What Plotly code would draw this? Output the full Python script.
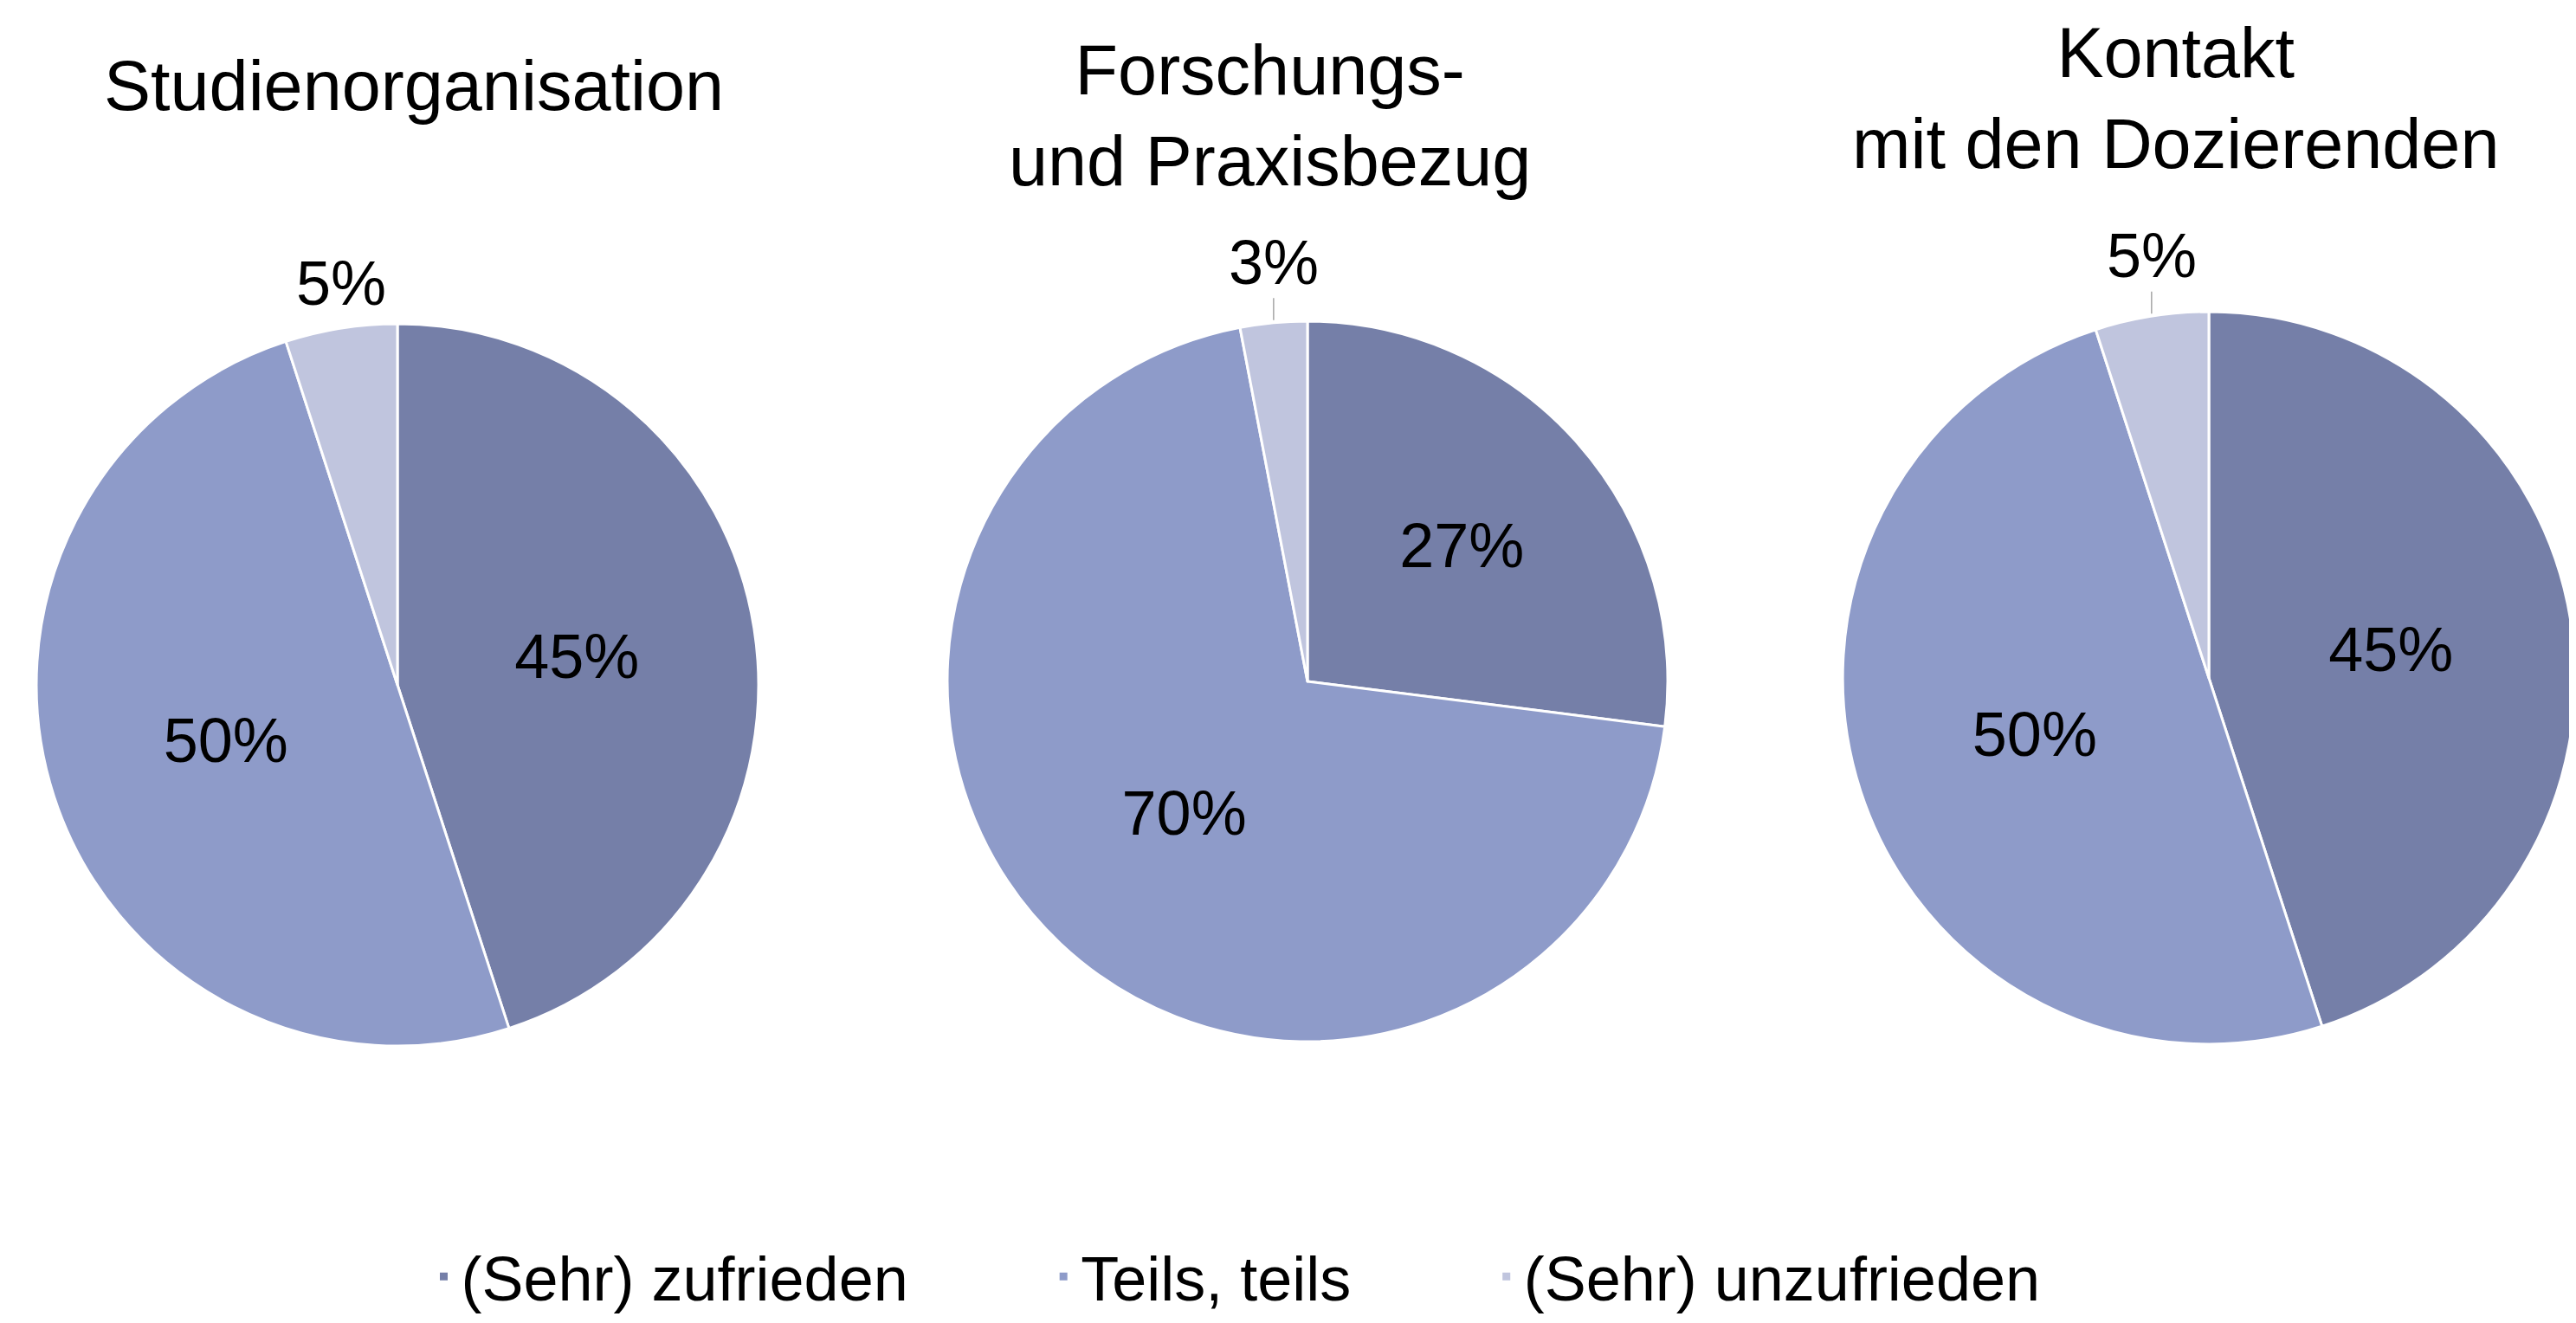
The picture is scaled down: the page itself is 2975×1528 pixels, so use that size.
import math
import plotly.graph_objects as go

categories = ["(Sehr) zufrieden", "Teils, teils", "(Sehr) unzufrieden"]
titles = ["Studienorganisation", "Forschungs-<br>und Praxisbezug", "Kontakt<br>mit den Dozierenden"]
values_studienorganisation = [45, 50, 5]
values_forschung = [27, 70, 3]
values_kontakt = [45, 50, 5]
colors = ["#757fa8", "#8e9bc9", "#c0c5de"]

FONT = "Liberation Sans Narrow, Arial Narrow, Liberation Sans, Arial, sans-serif"
FS_TITLE = 81
FS_LABEL = 72
FS_LEGEND = 72
PAGE_W, PAGE_H = 2975, 1528
OFF = 8  # default body margin of the html page
W, H = PAGE_W - OFF, PAGE_H - OFF


def px2paper(x, y):
    """page pixel -> paper fraction of the figure"""
    return (x - OFF) / W, 1 - (y - OFF) / H


# pie centres / radii in page pixels (layout only)
pies = [(459, 791, 417), (1510, 787, 416), (2551, 783, 423)]
domains = []
for cx, cy, r in pies:
    x0, y0 = px2paper(cx - r, cy + r)
    x1, y1 = px2paper(cx + r, cy - r)
    domains.append(dict(x=[max(x0, 0.0), min(x1, 1.0)], y=[max(y0, 0.0), min(y1, 1.0)]))
series = [values_studienorganisation, values_forschung, values_kontakt]

pad = "\u00a0" * 7 + "\u2009"
legend_names = [categories[0] + pad, categories[1] + pad, categories[2]]

fig = go.Figure()
for i, vals in enumerate(series):
    fig.add_trace(go.Pie(
        labels=legend_names,
        values=vals,
        domain=domains[i],
        sort=False,
        direction="clockwise",
        rotation=0,
        marker=dict(colors=colors, line=dict(color="white", width=3)),
        texttemplate=["%{value:.0f}%", "%{value:.0f}%", ""],
        textposition=["inside", "inside", "none"],
        insidetextorientation="horizontal",
        textfont=dict(family=FONT, size=FS_LABEL, color="black"),
        showlegend=(i == 0),
        hoverinfo="label+value",
    ))

# labels of the small slices, placed above the slice at its mid-angle
leader = [False, True, True]
for i, vals in enumerate(series):
    cx, cy, r = pies[i]
    total = sum(vals)
    before = sum(vals[:2])
    theta = 2 * math.pi * (before + vals[2] / 2) / total
    ax_, ay_ = px2paper(cx + r * math.sin(theta), cy - r * math.cos(theta))
    if leader[i]:
        fig.add_annotation(
            x=ax_, y=ay_, xref="paper", yref="paper",
            text=f"{vals[2]:.0f}%", showarrow=True, arrowhead=0, arrowwidth=1.5,
            arrowcolor="#a6a6a6", ax=0, ay=-70, standoff=3,
            font=dict(family=FONT, size=FS_LABEL, color="black"),
        )
    else:
        fig.add_annotation(
            x=ax_, y=ay_, xref="paper", yref="paper",
            text=f"{vals[2]:.0f}%", showarrow=False, yshift=52,
            xanchor="center", yanchor="middle",
            font=dict(family=FONT, size=FS_LABEL, color="black"),
        )

# Titles as annotations (page pixel positions of their top centre)
title_pos = [(478, 52), (1466, 34), (2512, 14)]
for (tx, ty), t in zip(title_pos, titles):
    px_, py_ = px2paper(tx, ty)
    fig.add_annotation(
        x=px_, y=py_, xref="paper", yref="paper", text=t, showarrow=False,
        xanchor="center", yanchor="top",
        font=dict(family=FONT, size=FS_TITLE, color="black"),
    )

lx, _ = px2paper(1427, 0)
fig.update_layout(
    width=W, height=H,
    margin=dict(l=0, r=0, t=0, b=0),
    paper_bgcolor="white", plot_bgcolor="white",
    font=dict(family=FONT, size=FS_LEGEND, color="black"),
    legend=dict(
        orientation="h", x=lx, xanchor="center", y=0, yanchor="bottom",
        font=dict(family=FONT, size=FS_LEGEND, color="black"),
        traceorder="normal",
    ),
)

fig.write_html("out.html")
